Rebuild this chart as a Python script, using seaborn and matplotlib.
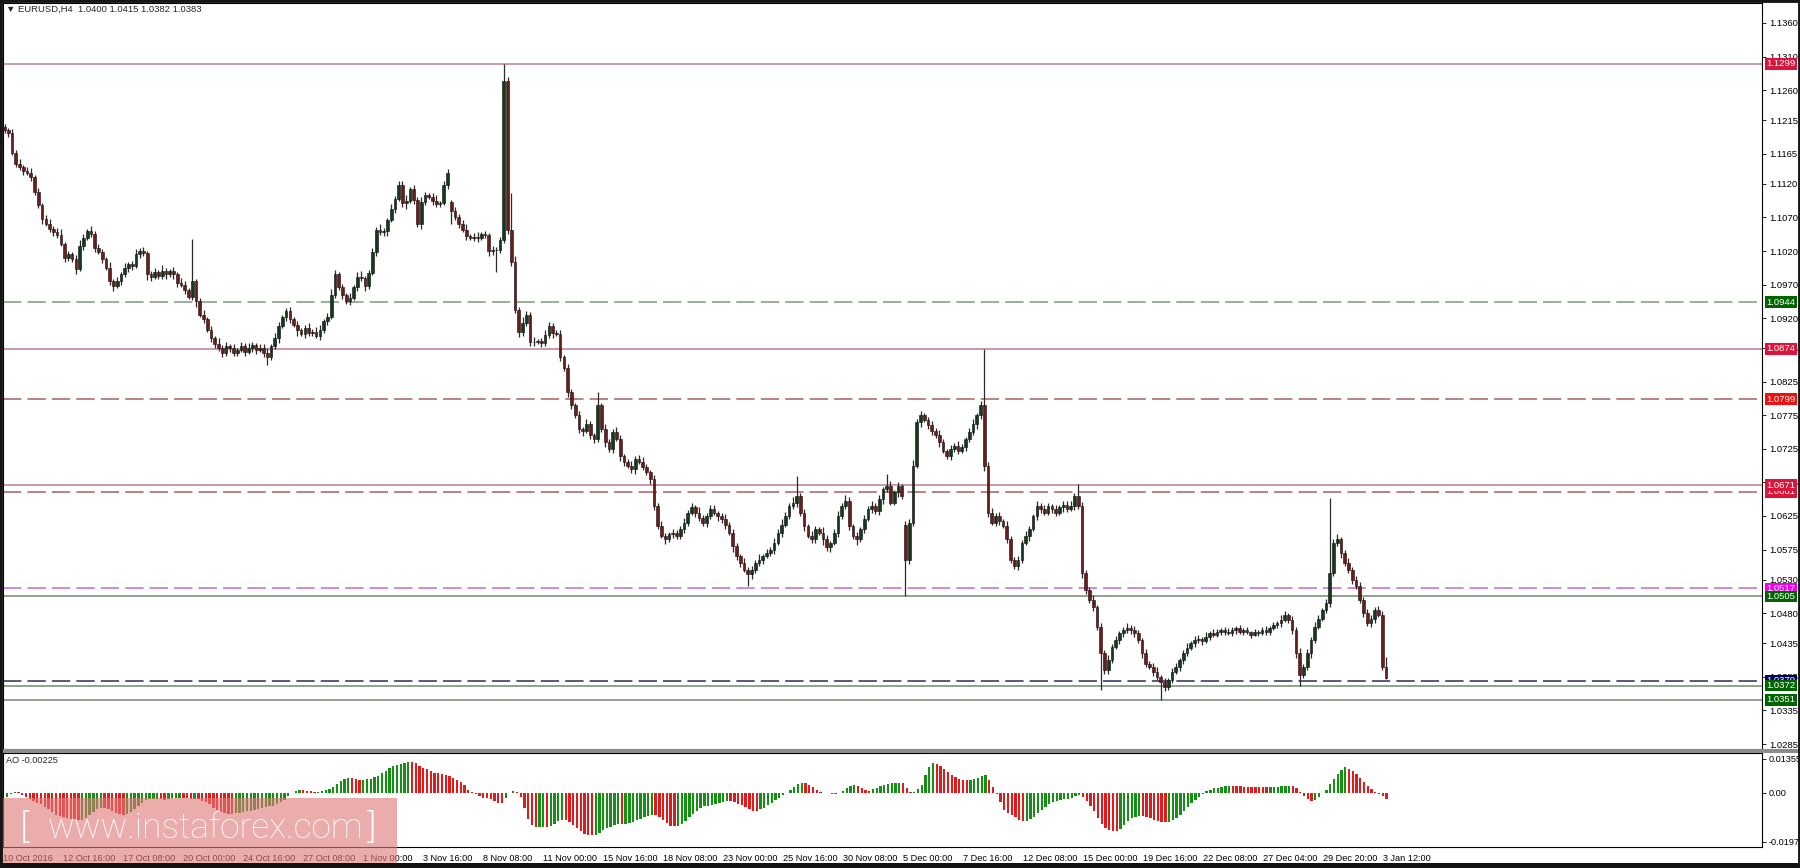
import numpy as np
import pandas as pd
import matplotlib
matplotlib.use("Agg")
import matplotlib.pyplot as plt
import matplotlib.transforms as mtransforms
from matplotlib.patches import Rectangle
import seaborn as sns

sns.set_style("white")
plt.rcParams['font.family'] = ['Liberation Sans', 'DejaVu Sans']

# ---------------- data ----------------
first_open = 1.1205
# median prices of the H4 bars just before the visible window (feed the AO averages only)
prior_medians = [
    1.1225, 1.1220, 1.1215, 1.1210, 1.1215, 1.1205, 1.1200, 1.1210, 1.1205,
    1.1210, 1.1205, 1.1180, 1.1160, 1.1175, 1.1205,
    1.1210, 1.1220, 1.1230, 1.1215, 1.1200, 1.1205,
    1.1205, 1.1195, 1.1180, 1.1165, 1.1150, 1.1145,
    1.1140, 1.1130, 1.1125, 1.1150, 1.1180, 1.1200,
]
closes = [
    1.1200, 1.1196, 1.1166, 1.1150, 1.1145, 1.1140, 1.1136, 1.1130, 1.1108, 1.1088,
    1.1068, 1.1060, 1.1053, 1.1048, 1.1044, 1.1030, 1.1010, 1.1015, 1.1008, 1.0993,
    1.1028, 1.1040, 1.1050, 1.1046, 1.1025, 1.1018, 1.1008, 1.0995, 1.0975, 1.0968,
    1.0975, 1.0985, 1.0995, 1.1000, 1.0998, 1.1015, 1.1020, 1.1017, 1.0985, 1.0982,
    1.0988, 1.0983, 1.0990, 1.0985, 1.0990, 1.0985, 1.0972, 1.0970, 1.0962, 1.0952,
    1.0975, 1.0945, 1.0925, 1.0918, 1.0902, 1.0890, 1.0882, 1.0875, 1.0868, 1.0878,
    1.0875, 1.0868, 1.0872, 1.0878, 1.0870, 1.0875, 1.0880, 1.0872, 1.0876, 1.0868,
    1.0862, 1.0878, 1.0890, 1.0908, 1.0922, 1.0930, 1.0918, 1.0910, 1.0902, 1.0896,
    1.0905, 1.0898, 1.0900, 1.0894, 1.0902, 1.0915, 1.0922, 1.0955, 1.0985, 1.0966,
    1.0955, 1.0945, 1.0950, 1.0966, 1.0982, 1.0980, 1.0968, 1.0987, 1.1019, 1.1052,
    1.1048, 1.1050, 1.1066, 1.1083, 1.1098, 1.1119, 1.1091, 1.1095, 1.1112, 1.1096,
    1.1060, 1.1093, 1.1103, 1.1100, 1.1095, 1.1090, 1.1091, 1.1119, 1.1137, 1.1080,
    1.1071, 1.1061, 1.1052, 1.1043, 1.1040, 1.1041, 1.1040, 1.1045, 1.1044, 1.1020,
    1.1021, 1.1022, 1.1036, 1.1273, 1.1052, 1.1004, 1.0932, 1.0900, 1.0912, 1.0925,
    1.0885, 1.0884, 1.0886, 1.0883, 1.0895, 1.0908, 1.0898, 1.0896, 1.0862, 1.0846,
    1.0810, 1.0790, 1.0775, 1.0755, 1.0752, 1.0762, 1.0745, 1.0740, 1.0790, 1.0755,
    1.0735, 1.0725, 1.0750, 1.0740, 1.0715, 1.0705, 1.0700, 1.0695, 1.0710, 1.0705,
    1.0698, 1.0690, 1.0680, 1.0640, 1.0610, 1.0595, 1.0590, 1.0598, 1.0600, 1.0595,
    1.0605, 1.0615, 1.0630, 1.0638, 1.0630, 1.0622, 1.0615, 1.0625, 1.0635, 1.0630,
    1.0625, 1.0620, 1.0612, 1.0600, 1.0580, 1.0565, 1.0555, 1.0545, 1.0538, 1.0545,
    1.0555, 1.0560, 1.0565, 1.0570, 1.0575, 1.0585, 1.0600, 1.0612, 1.0625, 1.0640,
    1.0645, 1.0655, 1.0630, 1.0610, 1.0595, 1.0590, 1.0605, 1.0600, 1.0590, 1.0578,
    1.0585, 1.0600, 1.0625, 1.0640, 1.0648, 1.0610, 1.0595, 1.0590, 1.0605, 1.0620,
    1.0635, 1.0640, 1.0632, 1.0650, 1.0665, 1.0670, 1.0645, 1.0660, 1.0670, 1.0655,
    1.0560, 1.0615, 1.0700, 1.0765, 1.0775, 1.0768, 1.0760, 1.0752, 1.0745, 1.0735,
    1.0722, 1.0715, 1.0725, 1.0730, 1.0722, 1.0728, 1.0740, 1.0750, 1.0762, 1.0775,
    1.0790, 1.0700, 1.0630, 1.0615, 1.0625, 1.0618, 1.0610, 1.0590, 1.0560, 1.0550,
    1.0560, 1.0585, 1.0595, 1.0605, 1.0625, 1.0640, 1.0635, 1.0630, 1.0640, 1.0635,
    1.0630, 1.0638, 1.0642, 1.0636, 1.0640, 1.0655, 1.0640, 1.0540, 1.0515, 1.0500,
    1.0490, 1.0460, 1.0420, 1.0395, 1.0410, 1.0430, 1.0440, 1.0450, 1.0455, 1.0458,
    1.0455, 1.0450, 1.0440, 1.0420, 1.0405, 1.0400, 1.0392, 1.0385, 1.0378, 1.0370,
    1.0380, 1.0392, 1.0400, 1.0410, 1.0420, 1.0428, 1.0435, 1.0440, 1.0442, 1.0438,
    1.0445, 1.0450, 1.0448, 1.0452, 1.0455, 1.0452, 1.0450, 1.0455, 1.0458, 1.0452,
    1.0455, 1.0452, 1.0448, 1.0452, 1.0450, 1.0455, 1.0452, 1.0458, 1.0462, 1.0465,
    1.0470, 1.0478, 1.0470, 1.0455, 1.0420, 1.0388, 1.0400, 1.0420, 1.0440, 1.0460,
    1.0472, 1.0485, 1.0495, 1.0540, 1.0585, 1.0590, 1.0570, 1.0555, 1.0545, 1.0530,
    1.0520, 1.0500, 1.0480, 1.0465, 1.0472, 1.0485, 1.0478, 1.0400, 1.0383,
]
# wick lengths above / below the body, in pips
hi_wick = [
    5,3,6,4,7,3,5,8,4,6,3,5,7,4,6,9,3,5,4,6,8,5,3,7,4,6,5,3,8,4,
    6,4,7,3,5,8,4,6,3,5,7,4,9,5,3,6,4,8,5,3,6,4,5,7,3,6,4,8,5,6,
    4,7,3,6,5,8,4,3,6,5,7,4,8,6,3,5,7,4,6,3,5,8,4,6,7,3,5,9,6,4,
    5,3,7,4,6,8,3,5,6,4,9,5,3,7,4,6,5,8,3,6,4,7,5,3,6,8,4,5,7,3,
    6,4,5,8,3,6,7,4,5,3,6,4,5,0,0,0,8,5,9,6,4,7,3,5,8,6,4,5,7,3,
    6,5,4,7,3,8,5,4,6,3,7,5,4,8,6,3,5,7,4,6,8,5,3,6,4,7,5,3,6,4,
    5,7,4,6,3,8,5,4,7,6,3,5,8,4,6,5,3,7,4,6,5,8,3,6,4,7,5,9,6,4,
    8,5,4,6,3,7,5,4,8,6,3,5,7,4,9,5,3,6,4,7,5,8,4,6,3,5,7,4,6,3,
    6,5,8,4,7,3,5,6,4,8,5,3,6,4,7,5,3,6,8,4,6,0,5,7,4,6,3,8,5,4,
    6,4,7,5,3,8,4,6,5,3,7,4,6,5,8,4,0,6,5,4,7,3,6,5,8,4,6,3,5,7,
    4,6,5,3,7,4,6,8,3,5,4,7,6,3,5,8,4,6,5,3,7,4,6,5,3,4,6,5,3,4,
    3,4,2,5,3,4,6,3,5,4,7,5,3,6,4,8,5,6,4,7,5,3,6,0,6,8,4,5,7,4,
    5,6,4,7,5,4,6,5,0,
]
lo_wick = [
    4,6,3,5,4,7,3,6,5,4,8,3,5,6,4,3,7,5,4,8,3,6,4,5,7,3,6,4,5,8,
    3,5,4,6,7,3,5,4,8,6,3,5,4,6,3,7,5,4,6,3,5,8,4,6,3,5,7,4,6,5,
    6,4,5,3,7,4,6,5,3,6,0,5,4,7,3,6,5,4,8,3,6,4,5,3,7,4,6,3,5,4,
    7,4,5,3,6,4,8,5,3,6,4,5,7,3,6,4,5,8,3,6,4,7,5,3,6,4,5,3,6,0,
    5,6,4,7,3,5,6,4,5,7,6,0,5,4,6,7,5,8,6,4,7,5,3,6,4,5,7,3,6,5,
    7,5,4,6,8,3,5,6,4,5,7,4,6,3,8,5,4,6,7,3,5,4,8,6,5,3,7,4,6,5,
    4,6,5,3,7,4,5,6,4,3,7,5,6,4,8,5,6,4,0,7,5,4,6,3,5,7,4,6,3,5,
    4,6,5,7,3,5,6,4,8,5,6,3,7,5,4,6,5,8,4,6,3,5,4,6,7,5,3,4,6,5,
    0,6,5,4,7,3,5,6,4,7,3,5,6,4,5,3,6,4,5,7,5,8,6,4,5,7,3,6,5,4,
    6,5,4,7,3,6,5,4,3,6,5,4,7,5,3,6,5,8,6,4,7,5,0,6,5,4,3,6,5,4,
    6,5,4,7,5,3,6,5,0,6,5,4,3,6,5,4,3,5,4,6,3,5,4,3,4,5,3,4,6,3,
    4,3,5,2,4,3,5,4,3,4,5,3,4,6,7,0,5,4,6,5,4,3,5,6,4,5,7,4,5,6,
    4,5,6,4,5,6,4,5,0,
]
special_open = {119: 1.1093, 240: 1.0612}
special_high = {50: 1.1038, 118: 1.1142, 133: 1.1299, 134: 1.1280, 135: 1.1107,
                158: 1.0810, 211: 1.0685, 235: 1.0688, 261: 1.0874, 286: 1.0672,
                353: 1.0652, 368: 1.0415}
special_low = {70: 1.0850, 119: 1.1060, 131: 1.0988, 198: 1.0520, 240: 1.0505,
               292: 1.0366, 308: 1.0351, 345: 1.0372, 368: 1.0382}

price_ticks = [1.1360, 1.1310, 1.1260, 1.1215, 1.1165, 1.1120, 1.1070, 1.1020,
               1.0970, 1.0920, 1.0875, 1.0825, 1.0775, 1.0725, 1.0675, 1.0625,
               1.0575, 1.0530, 1.0480, 1.0435, 1.0385, 1.0335, 1.0285]
ao_ticks = [0.01355, 0.0, -0.01971]
ao_tick_labels = ['0.01355', '0.00', '-0.01971']

date_labels = ['10 Oct 2016', '12 Oct 16:00', '17 Oct 08:00', '20 Oct 00:00',
               '24 Oct 16:00', '27 Oct 08:00', '1 Nov 00:00', '3 Nov 16:00',
               '8 Nov 08:00', '11 Nov 00:00', '15 Nov 16:00', '18 Nov 08:00',
               '23 Nov 00:00', '25 Nov 16:00', '30 Nov 08:00', '5 Dec 00:00',
               '7 Dec 16:00', '12 Dec 08:00', '15 Dec 00:00', '19 Dec 16:00',
               '22 Dec 08:00', '27 Dec 04:00', '29 Dec 20:00', '3 Jan 12:00']
label_bars = [0, 16, 32, 48, 64, 80, 96, 112, 128, 144, 160, 176, 192, 208,
              224, 240, 256, 272, 288, 304, 320, 336, 352, 368]

levels = [1.1299, 1.0944, 1.0874, 1.0799, 1.0661, 1.0671, 1.0517, 1.0505,
          1.0379, 1.0372, 1.0351]
level_dashed = [False, True, False, True, True, False, True, False, True, False, False]
level_colors = ['#bf7f8f', '#7d9a7d', '#bf7f8f', '#a85f5f', '#a85f5f', '#bf7f8f',
                '#cc66cc', '#6f8c6f', '#2c2c5c', '#6f8c6f', '#6f8c6f']
level_label_bg = ['#dc143c', '#006400', '#dc143c', '#f01010', '#dc143c', '#dc143c',
                  '#ee00ee', '#006400', '#000060', '#006400', '#006400']

header_text = '\u25bc EURUSD,H4  1.0400 1.0415 1.0382 1.0383'
ao_text = 'AO -0.00225'

assert len(closes) == len(hi_wick) == len(lo_wick)

# ---------------- build OHLC ----------------
n = len(closes)
x = np.arange(n)
c = np.array(closes)
o = np.r_[first_open, c[:-1]]
for k, v in special_open.items():
    o[k] = v
hi = np.maximum(o, c) + np.array(hi_wick) * 1e-4
lo = np.minimum(o, c) - np.array(lo_wick) * 1e-4
for k, v in special_high.items():
    hi[k] = v
for k, v in special_low.items():
    lo[k] = v
up = c >= o

# Awesome Oscillator: SMA5 - SMA34 of the median price
med = pd.Series(np.r_[prior_medians, (hi + lo) / 2])
ao_full = (med.rolling(5, min_periods=1).mean() - med.rolling(34, min_periods=1).mean()).to_numpy()
ao = ao_full[len(prior_medians):]
prev = ao_full[len(prior_medians) - 1:-1]
rising = ao > prev
ao_df = pd.DataFrame({'bar': x, 'ao': ao, 'dir': np.where(rising, 'up', 'down')})

# ---------------- figure ----------------
W, H = 1568.0, 756.0
def fx(px):
    return px / W
def fy(py):
    return 1 - py / H

fig = plt.figure(figsize=(18, 8.68), dpi=100)
fig.patch.set_facecolor('white')
ax = fig.add_axes([fx(3), fy(652), fx(1535) - fx(3), fy(3) - fy(652)])
ax2 = fig.add_axes([fx(3), fy(738), fx(1535) - fx(3), fy(656) - fy(738)])

XL = (-0.3, 468.2)

# candles
ax.vlines(x, lo, hi, color='#2a2a2a', lw=0.9, zorder=2)
body_h = np.maximum(np.abs(c - o), 0.00006)
body_b = np.minimum(o, c)
ax.bar(x[up], body_h[up], bottom=body_b[up], width=0.72, color='#143a1c',
       edgecolor='#0b0b0b', linewidth=0.4, zorder=3)
ax.bar(x[~up], body_h[~up], bottom=body_b[~up], width=0.72, color='#6a1d1d',
       edgecolor='#1a0a0a', linewidth=0.4, zorder=3)

# horizontal levels
trans = mtransforms.blended_transform_factory(ax.transAxes, ax.transData)
for lv, dsh, lc in zip(levels, level_dashed, level_colors):
    ls = (0, (12, 4)) if dsh else '-'
    ax.axhline(lv, color=lc, lw=1.1, ls=ls, zorder=1)
for lv, bg in zip(levels, level_label_bg):
    ax.text(1.0024, lv, f'{lv:.4f}', transform=trans, ha='left', va='center',
            fontsize=6.8, color='white', zorder=10, clip_on=False,
            bbox=dict(boxstyle='square,pad=0.14', fc=bg, ec='none'))

ax.set_xlim(*XL)
ax.set_ylim(1.02782, 1.13891)
ax.yaxis.tick_right()
ax.set_yticks(price_ticks)
ax.set_yticklabels([f'{t:.4f}' for t in price_ticks])
ax.tick_params(axis='y', labelsize=6.8, length=3, width=0.6, pad=2, colors='black')
ax.set_xticks([])
for s in ax.spines.values():
    s.set_color('black')
    s.set_linewidth(0.8)

# AO histogram
sns.barplot(data=ao_df, x='bar', y='ao', hue='dir',
            palette={'up': '#159015', 'down': '#e41a1a'}, native_scale=True,
            width=0.62, saturation=1, errorbar=None, legend=False, dodge=False,
            linewidth=0, ax=ax2)
ax2.set_xlabel('')
ax2.set_ylabel('')
ax2.set_xlim(*XL)
ax2.set_ylim(-0.02202, 0.01586)
ax2.yaxis.tick_right()
ax2.set_yticks(ao_ticks)
ax2.set_yticklabels(ao_tick_labels)
ax2.tick_params(axis='y', labelsize=6.6, length=3, width=0.6, pad=1.5, colors='black')
ax2.set_xticks(np.array(label_bars) - 1)
ax2.set_xticklabels(date_labels, ha='left')
ax2.tick_params(axis='x', labelsize=6.6, length=3, width=0.6, pad=1.5, colors='black')
for s in ax2.spines.values():
    s.set_color('black')
    s.set_linewidth(0.8)

# texts
fig.text(fx(5), fy(8), header_text, fontsize=6.8, va='center', ha='left')
fig.text(fx(5), fy(662), ao_text, fontsize=6.6, va='center', ha='left')

# panel separator and frame
fig.add_artist(Rectangle((0, fy(656)), 1, fy(652) - fy(656), transform=fig.transFigure,
                         fc='#8c8c8c', ec='none', zorder=5))
fig.add_artist(Rectangle((0, 0), 1, 4 / H, transform=fig.transFigure,
                         fc='#111111', ec='none', zorder=30))
fig.add_artist(Rectangle((0, 0), 1, 1, transform=fig.transFigure,
                         fill=False, ec='#151515', lw=3.5, zorder=30))

# watermark
fig.add_artist(Rectangle((0, fy(752)), fx(346), fy(695) - fy(752),
                         transform=fig.transFigure, fc='#e07a7a', alpha=0.62,
                         ec='none', zorder=20))
fig.text(fx(179), fy(721), 'www.instaforex.com', color='white', fontsize=25.5,
         family=['Liberation Sans Narrow', 'Roboto', 'DejaVu Sans'], fontweight='light',
         ha='center', va='center', zorder=21)
fig.text(fx(23), fy(721), '[', color='white', fontsize=27, family=['DejaVu Sans'],
         fontweight='light', ha='center', va='center', zorder=21)
fig.text(fx(322), fy(721), ']', color='white', fontsize=27, family=['DejaVu Sans'],
         fontweight='light', ha='center', va='center', zorder=21)

fig.savefig('out.png', dpi=100)
